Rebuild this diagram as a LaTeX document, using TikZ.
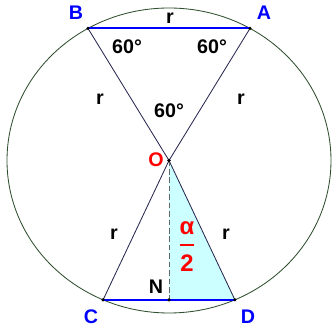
\documentclass[tikz,border=0pt]{standalone}
\usepackage{amsmath}
\usepackage{fontspec}
\setmainfont{Liberation Sans}
\usepackage{tikz}
\definecolor{circgreen}{RGB}{47,79,47}
\definecolor{chordblue}{RGB}{0,0,255}
\definecolor{radnavy}{RGB}{40,40,80}
\definecolor{lightcyan}{RGB}{204,255,255}

\begin{document}
\begin{tikzpicture}[lbl/.style={font=\fontsize{14}{16}\selectfont\bfseries, inner sep=0pt},
    ptlbl/.style={lbl, text=chordblue}]
    \useasboundingbox (-4.225,-4.1875) rectangle (4.075,4.0125);
    \def\rx{4.05} \def\ry{3.8125}
    \coordinate (O) at (0,0);
    \coordinate (A) at ({\rx*cos(60)},{\ry*sin(60)});
    \coordinate (B) at ({\rx*cos(120)},{\ry*sin(120)});
    \coordinate (C) at ({\rx*cos(-114)},{\ry*sin(-114)});
    \coordinate (D) at ({\rx*cos(-66)},{\ry*sin(-66)});
    \coordinate (N) at (0,{\ry*sin(-66)});
    \fill[lightcyan] (O) -- (N) -- (D) -- cycle;
    \draw[circgreen, line width=0.6pt] (O) ellipse [x radius=\rx, y radius=\ry];
    \draw[radnavy, line width=0.6pt] (A) -- (O) -- (B);
    \draw[radnavy, line width=0.6pt] (C) -- (O) -- (D);
    \draw[gray!80!black, line width=0.6pt, dash pattern=on 4pt off 2pt] (O) -- (N);
    \draw[chordblue, line width=1.5pt] (A) -- (B);
    \draw[chordblue, line width=1.5pt] (C) -- (D);
    \foreach \p in {O,A,B,C,D,N}
        \fill (\p) circle (0.045);
    \node[ptlbl] (lA) at (2.375,3.6875) {A};
    \node[ptlbl] (lB) at (-2.325,3.6875) {B};
    \node[ptlbl] (lC) at (-1.95,-3.9125) {C};
    \node[ptlbl] (lD) at (1.975,-3.9125) {D};
    \node[lbl, text=red] (lO) at (-0.325,0.0125) {O};
    \node[lbl] (lN) at (-0.325,-3.1625) {N};
    \node[lbl] (rAB) at (0.025,3.5625) {r};
    \node[lbl] (rOB) at (-1.725,1.5375) {r};
    \node[lbl] (rOA) at (1.8,1.5375) {r};
    \node[lbl] (rOC) at (-1.375,-1.8375) {r};
    \node[lbl] (rOD) at (1.425,-1.8375) {r};
    \node[lbl] (angB) at (-1.05,2.8375) {60°};
    \node[lbl] (angA) at (1.075,2.8375) {60°};
    \node[lbl] (angO) at (0,1.2375) {60°};
    \node[lbl, text=red] (half) at (0.45,-2.1625) {$\genfrac{}{}{1.2pt}{0}{\text{\fontsize{17}{18}\selectfont α}\rule[-3pt]{0pt}{3pt}}{\rule{0pt}{15pt}\text{\fontsize{17}{18}\selectfont 2}}$};
\end{tikzpicture}
\end{document}
